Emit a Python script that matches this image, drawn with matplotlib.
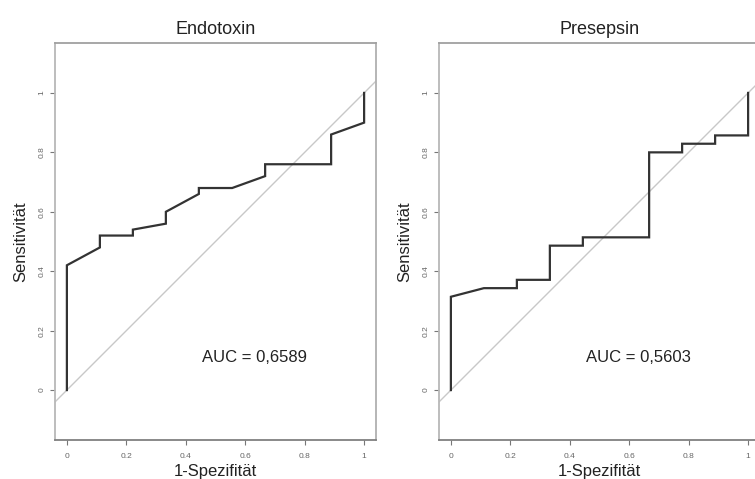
import matplotlib
matplotlib.use("Agg")
import matplotlib.pyplot as plt

plt.rcParams['font.family'] = ['Liberation Sans', 'DejaVu Sans']

# Endotoxin ROC (1-specificity, sensitivity)
endo_fpr = [0, 0, 0.111, 0.111, 0.222, 0.222, 0.333, 0.333, 0.444, 0.444,
            0.556, 0.667, 0.667, 0.889, 0.889, 1.0, 1.0]
endo_tpr = [0, 0.42, 0.48, 0.52, 0.52, 0.54, 0.56, 0.60, 0.66, 0.68,
            0.68, 0.72, 0.76, 0.76, 0.86, 0.90, 1.0]
endo_auc = "AUC = 0,6589"

# Presepsin ROC
pres_fpr = [0, 0, 0.111, 0.222, 0.222, 0.333, 0.333, 0.444, 0.444, 0.667,
            0.667, 0.778, 0.778, 0.889, 0.889, 1.0, 1.0]
pres_tpr = [0, 0.314, 0.343, 0.343, 0.371, 0.371, 0.486, 0.486, 0.514, 0.514,
            0.800, 0.800, 0.829, 0.829, 0.857, 0.857, 1.0]
pres_auc = "AUC = 0,5603"

titles = ["Endotoxin", "Presepsin"]
ticks = [0, 0.2, 0.4, 0.6, 0.8, 1]
tick_labels = ["0", "0.2", "0.4", "0.6", "0.8", "1"]

W, H = 755, 479
fig = plt.figure(figsize=(W / 100, H / 100), dpi=100)

panels = [
    (55, endo_fpr, endo_tpr, endo_auc, titles[0]),
    (439, pres_fpr, pres_tpr, pres_auc, titles[1]),
]
ax_w = 321
top, bottom = 43, 440

for left, fpr, tpr, auc, title in panels:
    ax = fig.add_axes([left / W, 1 - bottom / H, ax_w / W, (bottom - top) / H])
    ax.set_xlim(-0.04, 1.04)
    ax.set_ylim(-0.168, 1.168)
    ax.plot([-0.2, 1.2], [-0.2, 1.2], color='#c8c8c8', lw=1.0, zorder=1)
    ax.plot(fpr, tpr, color='#333333', lw=1.6, zorder=2, solid_joinstyle='miter')
    ax.text(0.63, 0.11, auc, fontsize=12, ha='center', va='center', color='#222222')
    ax.set_title(title, fontsize=13, pad=6.5, color='#222222')
    ax.set_xticks(ticks)
    ax.set_xticklabels(tick_labels)
    ax.set_yticks(ticks)
    ax.set_yticklabels(tick_labels, rotation=90, va='center')
    ax.tick_params(axis='both', labelsize=6, labelcolor='#666666', color='#777777',
                   length=3.5, width=0.8)
    ax.tick_params(axis='x', pad=6)
    ax.tick_params(axis='y', pad=3.5)
    ax.set_xlabel("1-Spezifität", fontsize=12, labelpad=3, color='#222222')
    ax.set_ylabel("Sensitivität", fontsize=12, labelpad=7, color='#222222')
    ax.spines['left'].set_color('#b8b8b8')
    ax.spines['top'].set_color('#a0a0a0')
    ax.spines['right'].set_color('#b0b0b0')
    ax.spines['bottom'].set_color('#808080')
    for s in ax.spines.values():
        s.set_linewidth(1.3)

fig.savefig("out.png", dpi=100)
